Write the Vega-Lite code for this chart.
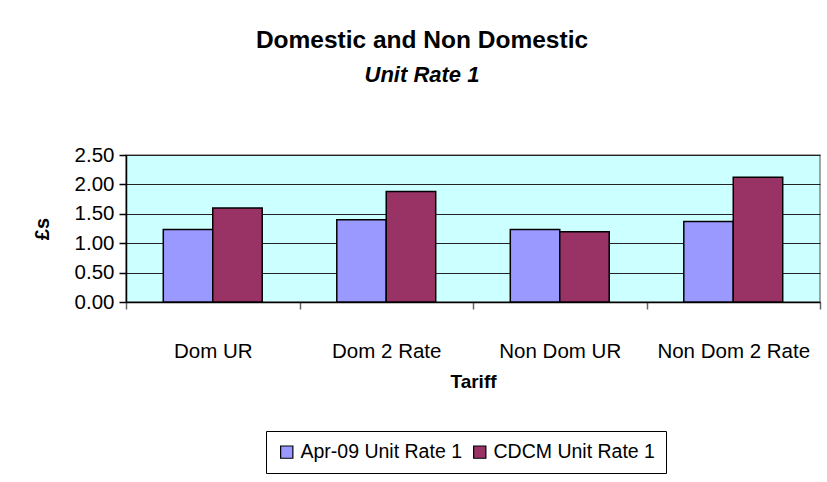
{
  "$schema": "https://vega.github.io/schema/vega-lite/v6.json",
  "width": 694,
  "height": 147,
  "autosize": {"type": "none"},
  "padding": {"left": 126, "top": 155, "right": 7, "bottom": 180},
  "background": "white",
  "title": {
    "text": "Domestic and Non Domestic",
    "subtitle": "Unit Rate 1",
    "font": "Liberation Sans",
    "fontSize": 24.5,
    "fontWeight": "bold",
    "color": "black",
    "subtitleFont": "Liberation Sans",
    "subtitleFontSize": 22,
    "subtitleFontStyle": "italic",
    "subtitleFontWeight": "bold",
    "subtitleColor": "black",
    "subtitlePadding": 12,
    "anchor": "middle",
    "dx": -51,
    "offset": 58
  },
  "data": {
    "values": [
      {"tariff": "Dom UR", "series": "Apr-09 Unit Rate 1", "value": 1.235},
      {"tariff": "Dom UR", "series": "CDCM Unit Rate 1", "value": 1.60},
      {"tariff": "Dom 2 Rate", "series": "Apr-09 Unit Rate 1", "value": 1.40},
      {"tariff": "Dom 2 Rate", "series": "CDCM Unit Rate 1", "value": 1.88},
      {"tariff": "Non Dom UR", "series": "Apr-09 Unit Rate 1", "value": 1.235},
      {"tariff": "Non Dom UR", "series": "CDCM Unit Rate 1", "value": 1.195},
      {"tariff": "Non Dom 2 Rate", "series": "Apr-09 Unit Rate 1", "value": 1.37},
      {"tariff": "Non Dom 2 Rate", "series": "CDCM Unit Rate 1", "value": 2.12}
    ]
  },
  "mark": {"type": "bar", "stroke": "black", "strokeWidth": 1.5},
  "encoding": {
    "x": {
      "field": "tariff",
      "type": "nominal",
      "sort": null,
      "scale": {"paddingInner": 0, "paddingOuter": 0},
      "axis": {
        "title": "Tariff",
        "labelAngle": 0,
        "labelFont": "Liberation Sans",
        "labelFontSize": 20.5,
        "labelColor": "black",
        "labelPadding": 32,
        "titleFont": "Liberation Sans",
        "titleFontSize": 19,
        "titleFontWeight": "bold",
        "titleColor": "black",
        "titlePadding": 11,
        "domainColor": "black",
        "domainWidth": 1.5,
        "tickBand": "extent",
        "tickColor": "#666666",
        "tickSize": 7,
        "tickWidth": 1.5
      }
    },
    "xOffset": {"field": "series", "type": "nominal", "scale": {"paddingInner": 0, "paddingOuter": 0.754}},
    "y": {
      "field": "value",
      "type": "quantitative",
      "scale": {"domain": [0, 2.5], "nice": false},
      "axis": {
        "title": "£s",
        "values": [0, 0.5, 1, 1.5, 2, 2.5],
        "format": ".2f",
        "labelFont": "Liberation Sans",
        "labelFontSize": 20.5,
        "labelColor": "black",
        "labelPadding": 5,
        "titleFont": "Liberation Sans",
        "titleFontSize": 20,
        "titleFontWeight": "bold",
        "titleColor": "black",
        "titlePadding": 22,
        "domainColor": "black",
        "domainWidth": 1.5,
        "tickColor": "black",
        "tickSize": 7,
        "tickWidth": 1.5,
        "grid": true,
        "gridColor": "#222222",
        "gridWidth": 1.2
      }
    },
    "color": {
      "field": "series",
      "type": "nominal",
      "scale": {"range": ["#9999FF", "#993366"]},
      "legend": {
        "title": null,
        "orient": "none",
        "direction": "horizontal",
        "legendX": 140,
        "legendY": 276,
        "symbolType": "square",
        "symbolSize": 150,
        "symbolStrokeColor": "black",
        "symbolStrokeWidth": 1.2,
        "labelFont": "Liberation Sans",
        "labelFontSize": 19.5,
        "labelColor": "black",
        "labelLimit": 0,
        "strokeColor": "black",
        "padding": 11,
        "columnPadding": 8,
        "labelOffset": 4
      }
    }
  },
  "config": {
    "view": {"stroke": "#888888", "strokeWidth": 1.5, "fill": "#CCFFFF"}
  }
}
